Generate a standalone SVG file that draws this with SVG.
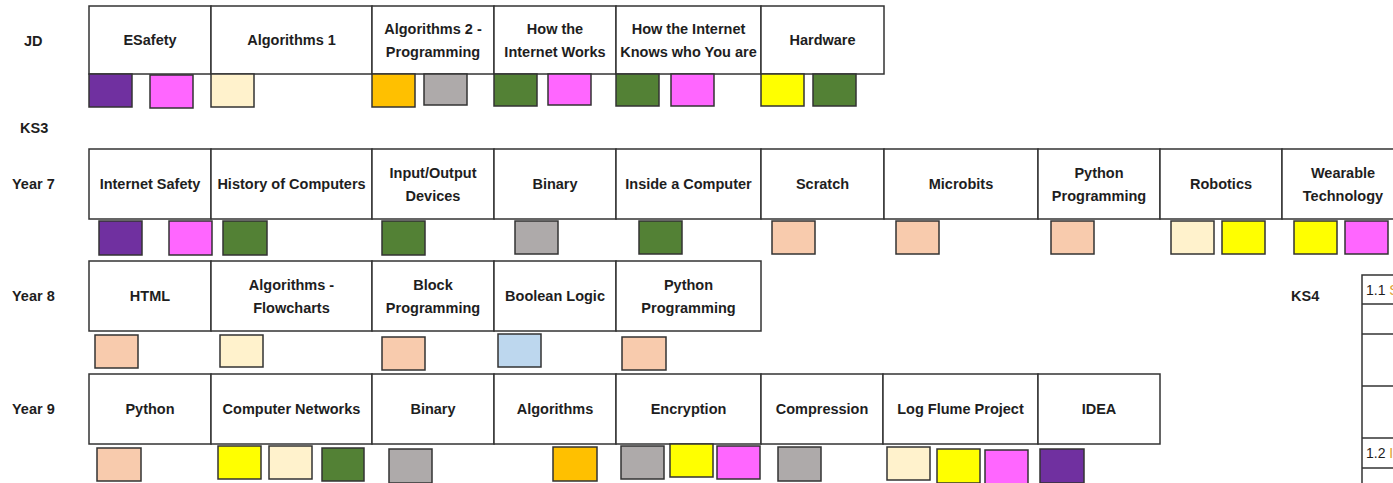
<svg xmlns="http://www.w3.org/2000/svg" width="1393" height="483" viewBox="0 0 1393 483">
<style>
.cell{fill:#fff;stroke:#333;stroke-width:1.5}
.sq{stroke:#333;stroke-width:1.5}
.t{font-family:"Liberation Sans",Arial,sans-serif;font-weight:bold;font-size:14.5px;fill:#1e1e1e;text-anchor:middle}
.lbl{font-family:"Liberation Sans",Arial,sans-serif;font-weight:bold;font-size:14.5px;fill:#1e1e1e}
.tbl{fill:none;stroke:#333;stroke-width:1.5}
.num{font-family:"Liberation Sans",Arial,sans-serif;font-size:14px;fill:#1e1e1e}
.pu{fill:#7030A0}.pk{fill:#FF66FF}.cr{fill:#FFF2CC}.or{fill:#FFC000}.gr{fill:#AEAAAA}.gn{fill:#538135}.ye{fill:#FFFF00}.pe{fill:#F8CBAD}.bl{fill:#BDD7EE}
</style>
<rect width="1393" height="483" fill="#fff"/>
<g id="labels">
<text class="lbl" x="24" y="46">JD</text>
<text class="lbl" x="20" y="133">KS3</text>
<text class="lbl" x="12" y="189">Year 7</text>
<text class="lbl" x="12" y="301">Year 8</text>
<text class="lbl" x="12" y="414">Year 9</text>
<text class="lbl" x="1291" y="301">KS4</text>
</g>
<!-- JD row -->
<g id="jd-esafety"><rect class="cell" x="89" y="6" width="122" height="68"/><text class="t" x="150" y="45">ESafety</text>
<rect class="sq pu" x="89" y="74" width="43" height="33"/><rect class="sq pk" x="150" y="75" width="43" height="33"/></g>
<g id="jd-algorithms1"><rect class="cell" x="211" y="6" width="161" height="68"/><text class="t" x="291.5" y="45">Algorithms 1</text>
<rect class="sq cr" x="211" y="74" width="43" height="33"/></g>
<g id="jd-algorithms2"><rect class="cell" x="372" y="6" width="122" height="68"/><text class="t" x="433" y="34">Algorithms 2 -</text><text class="t" x="433" y="57">Programming</text>
<rect class="sq or" x="372" y="74" width="43" height="33"/><rect class="sq gr" x="424" y="74" width="43" height="31"/></g>
<g id="jd-internet-works"><rect class="cell" x="494" y="6" width="122" height="68"/><text class="t" x="555" y="34">How the</text><text class="t" x="555" y="57">Internet Works</text>
<rect class="sq gn" x="494" y="74" width="43" height="32"/><rect class="sq pk" x="548" y="74" width="43" height="31"/></g>
<g id="jd-internet-knows"><rect class="cell" x="616" y="6" width="145" height="68"/><text class="t" x="688.5" y="34">How the Internet</text><text class="t" x="688.5" y="57">Knows who You are</text>
<rect class="sq gn" x="616" y="74" width="43" height="32"/><rect class="sq pk" x="671" y="74" width="43" height="32"/></g>
<g id="jd-hardware"><rect class="cell" x="761" y="6" width="123" height="68"/><text class="t" x="822.5" y="45">Hardware</text>
<rect class="sq ye" x="761" y="74" width="43" height="32"/><rect class="sq gn" x="813" y="74" width="43" height="32"/></g>
<!-- Year 7 -->
<g id="y7-internet-safety"><rect class="cell" x="89" y="149" width="122" height="70"/><text class="t" x="150" y="189">Internet Safety</text>
<rect class="sq pu" x="99" y="221" width="43" height="34"/><rect class="sq pk" x="169" y="221" width="43" height="34"/></g>
<g id="y7-history"><rect class="cell" x="211" y="149" width="161" height="70"/><text class="t" x="291.5" y="189">History of Computers</text>
<rect class="sq gn" x="223" y="221" width="44" height="34"/></g>
<g id="y7-io"><rect class="cell" x="372" y="149" width="122" height="70"/><text class="t" x="433" y="178">Input/Output</text><text class="t" x="433" y="201">Devices</text>
<rect class="sq gn" x="382" y="221" width="43" height="34"/></g>
<g id="y7-binary"><rect class="cell" x="494" y="149" width="122" height="70"/><text class="t" x="555" y="189">Binary</text>
<rect class="sq gr" x="515" y="221" width="43" height="33"/></g>
<g id="y7-inside"><rect class="cell" x="616" y="149" width="145" height="70"/><text class="t" x="688.5" y="189">Inside a Computer</text>
<rect class="sq gn" x="639" y="221" width="43" height="33"/></g>
<g id="y7-scratch"><rect class="cell" x="761" y="149" width="123" height="70"/><text class="t" x="822.5" y="189">Scratch</text>
<rect class="sq pe" x="772" y="221" width="43" height="33"/></g>
<g id="y7-microbits"><rect class="cell" x="884" y="149" width="154" height="70"/><text class="t" x="961" y="189">Microbits</text>
<rect class="sq pe" x="896" y="221" width="43" height="33"/></g>
<g id="y7-python"><rect class="cell" x="1038" y="149" width="122" height="70"/><text class="t" x="1099" y="178">Python</text><text class="t" x="1099" y="201">Programming</text>
<rect class="sq pe" x="1051" y="221" width="43" height="33"/></g>
<g id="y7-robotics"><rect class="cell" x="1160" y="149" width="122" height="70"/><text class="t" x="1221" y="189">Robotics</text>
<rect class="sq cr" x="1171" y="221" width="43" height="33"/><rect class="sq ye" x="1222" y="221" width="43" height="33"/></g>
<g id="y7-wearable"><rect class="cell" x="1282" y="149" width="122" height="70"/><text class="t" x="1343" y="178">Wearable</text><text class="t" x="1343" y="201">Technology</text>
<rect class="sq ye" x="1294" y="221" width="43" height="33"/><rect class="sq pk" x="1345" y="221" width="43" height="33"/></g>
<!-- Year 8 -->
<g id="y8-html"><rect class="cell" x="89" y="261" width="122" height="70"/><text class="t" x="150" y="301">HTML</text>
<rect class="sq pe" x="95" y="335" width="43" height="33"/></g>
<g id="y8-flowcharts"><rect class="cell" x="211" y="261" width="161" height="70"/><text class="t" x="291.5" y="290">Algorithms -</text><text class="t" x="291.5" y="313">Flowcharts</text>
<rect class="sq cr" x="220" y="335" width="43" height="32"/></g>
<g id="y8-block"><rect class="cell" x="372" y="261" width="122" height="70"/><text class="t" x="433" y="290">Block</text><text class="t" x="433" y="313">Programming</text>
<rect class="sq pe" x="382" y="337" width="43" height="33"/></g>
<g id="y8-boolean"><rect class="cell" x="494" y="261" width="122" height="70"/><text class="t" x="555" y="301">Boolean Logic</text>
<rect class="sq bl" x="498" y="334" width="43" height="33"/></g>
<g id="y8-python"><rect class="cell" x="616" y="261" width="145" height="70"/><text class="t" x="688.5" y="290">Python</text><text class="t" x="688.5" y="313">Programming</text>
<rect class="sq pe" x="622" y="337" width="44" height="33"/></g>
<!-- Year 9 -->
<g id="y9-python"><rect class="cell" x="89" y="374" width="122" height="70"/><text class="t" x="150" y="414">Python</text>
<rect class="sq pe" x="97" y="448" width="44" height="33"/></g>
<g id="y9-networks"><rect class="cell" x="211" y="374" width="161" height="70"/><text class="t" x="291.5" y="414">Computer Networks</text>
<rect class="sq ye" x="218" y="446" width="43" height="33"/><rect class="sq cr" x="269" y="446" width="43" height="33"/><rect class="sq gn" x="322" y="448" width="42" height="33"/></g>
<g id="y9-binary"><rect class="cell" x="372" y="374" width="122" height="70"/><text class="t" x="433" y="414">Binary</text>
<rect class="sq gr" x="389" y="449" width="43" height="34"/></g>
<g id="y9-algorithms"><rect class="cell" x="494" y="374" width="122" height="70"/><text class="t" x="555" y="414">Algorithms</text>
<rect class="sq or" x="553" y="447" width="44" height="34"/></g>
<g id="y9-encryption"><rect class="cell" x="616" y="374" width="145" height="70"/><text class="t" x="688.5" y="414">Encryption</text>
<rect class="sq gr" x="621" y="446" width="43" height="33"/><rect class="sq ye" x="670" y="444" width="43" height="33"/><rect class="sq pk" x="717" y="446" width="43" height="33"/></g>
<g id="y9-compression"><rect class="cell" x="761" y="374" width="122" height="70"/><text class="t" x="822" y="414">Compression</text>
<rect class="sq gr" x="778" y="447" width="43" height="34"/></g>
<g id="y9-logflume"><rect class="cell" x="883" y="374" width="155" height="70"/><text class="t" x="960.5" y="414">Log Flume Project</text>
<rect class="sq cr" x="887" y="447" width="43" height="33"/><rect class="sq ye" x="937" y="449" width="43" height="34"/><rect class="sq pk" x="985" y="450" width="43" height="34"/></g>
<g id="y9-idea"><rect class="cell" x="1038" y="374" width="122" height="70"/><text class="t" x="1099" y="414">IDEA</text>
<rect class="sq pu" x="1040" y="449" width="44" height="34"/></g>
<!-- KS4 table -->
<g id="ks4-table">
<rect class="tbl" x="1362" y="275" width="60" height="220"/>
<line class="tbl" x1="1362" y1="304" x2="1393" y2="304"/>
<line class="tbl" x1="1362" y1="334" x2="1393" y2="334"/>
<line class="tbl" x1="1362" y1="386" x2="1393" y2="386"/>
<line class="tbl" x1="1362" y1="438" x2="1393" y2="438"/>
<line class="tbl" x1="1362" y1="468" x2="1393" y2="468"/>
<text class="num" x="1366" y="295">1.1 <tspan fill="#E0A030">S</tspan></text>
<text class="num" x="1366" y="458">1.2 <tspan fill="#E0A030">I</tspan></text>
</g>
<g id="connectors"/>
</svg>
